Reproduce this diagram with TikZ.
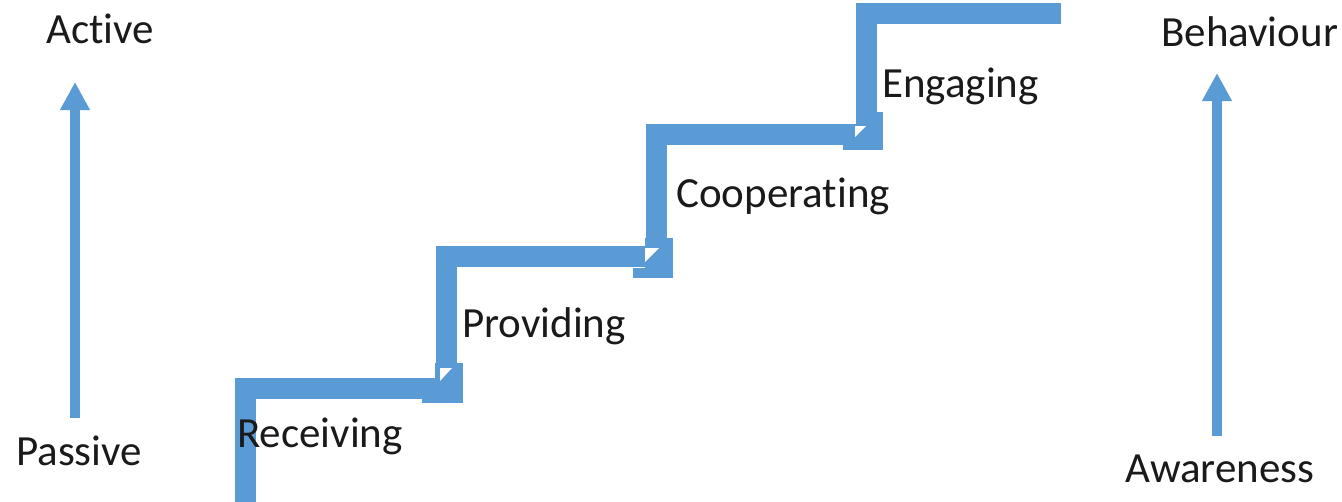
\documentclass[tikz,border=0pt]{standalone}
\usepackage{fontspec}
\setmainfont{Carlito}[Ligatures=NoCommon]
\usetikzlibrary{arrows.meta}
\definecolor{stairblue}{HTML}{5B9BD5}
\definecolor{txt}{HTML}{1A1A1A}
\begin{document}
\begin{tikzpicture}[x=1pt,y=-1pt,
  lbl/.style={anchor=base west,inner sep=0pt,text=txt,font=\fontsize{43}{50}\selectfont},
  stair/.style={draw=stairblue,line width=21pt,line join=miter,line cap=butt},
  joint/.style={fill=stairblue,draw=none},
  notch/.style={fill=white,draw=none},
  axisarrow/.style={draw=stairblue,line width=10pt,-{Triangle[width=28pt,length=28pt]}}]
\useasboundingbox (0,0) rectangle (1342,501);
\clip (0,0) rectangle (1342,501);
% staircase
\coordinate (s1a) at (245,515);
\coordinate (s1b) at (245,388.5);
\coordinate (s1c) at (463,388.5);
\coordinate (s2a) at (446.5,395);
\coordinate (s2b) at (446.5,256);
\coordinate (s2c) at (673,256);
\coordinate (s3a) at (656,270);
\coordinate (s3b) at (656,134.5);
\coordinate (s3c) at (883,134.5);
\coordinate (s4a) at (866.5,140);
\coordinate (s4b) at (866.5,13);
\coordinate (s4c) at (1061,13);
\draw[stair] (s1a) -- (s1b) -- (s1c);
\draw[stair] (s2a) -- (s2b) -- (s2c);
\draw[stair] (s3a) -- (s3b) -- (s3c);
\draw[stair] (s4a) -- (s4b) -- (s4c);
% junction blocks
\fill[joint] (435,363) rectangle (463,403);
\fill[joint] (422,393) rectangle (463,403);
\fill[notch] (440,368) -- (452,368) -- (440,381) -- cycle;
\fill[joint] (645,238) rectangle (673,278);
\fill[joint] (633,268) rectangle (673,278);
\fill[notch] (645,248) -- (659,248) -- (645,262) -- cycle;
\fill[joint] (856,112) rectangle (883,150);
\fill[joint] (843,140) rectangle (883,150);
\fill[notch] (855,126) -- (866,126) -- (855,137) -- cycle;
% axis arrows
\coordinate (la) at (75,418);
\coordinate (lb) at (75,82);
\coordinate (ra) at (1217,436);
\coordinate (rb) at (1217,73);
\draw[axisarrow] (la) -- (lb);
\draw[axisarrow] (ra) -- (rb);
% labels
\node[lbl] (active) at (46,43) {Active};
\node[lbl] (passive) at (16,465) {Passive};
\node[lbl] (behav) at (1161,46) {Behaviour};
\node[lbl] (aware) at (1125,482) {Awareness};
\node[lbl] (recv) at (237,447) {Receiving};
\node[lbl] (prov) at (462,337) {Providing};
\node[lbl] (coop) at (676,207) {Cooperating};
\node[lbl] (eng) at (882,97) {Engaging};
\end{tikzpicture}
\end{document}
